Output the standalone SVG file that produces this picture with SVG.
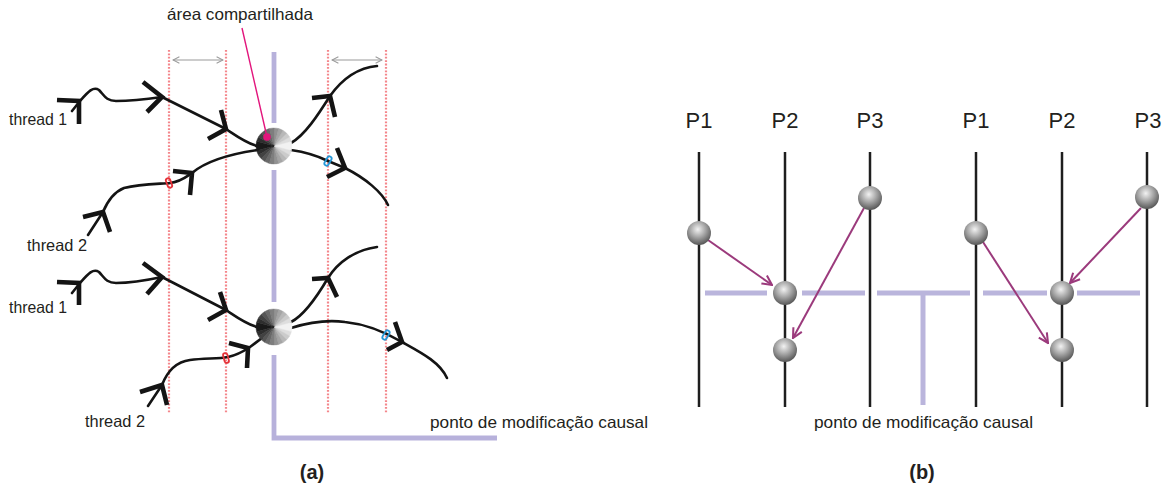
<svg xmlns="http://www.w3.org/2000/svg" xmlns:xlink="http://www.w3.org/1999/xlink" width="1166" height="488" viewBox="0 0 1166 488">
<style>
.txt{font-family:"Liberation Sans","DejaVu Sans",sans-serif;fill:#231f20}
.lbl{font-size:16.5px}
.plbl{font-size:22px}
.cap{font-size:20px;font-weight:bold}
.thread{fill:none;stroke:#141414;stroke-width:2.6;stroke-linecap:round;stroke-linejoin:round}
.chev{fill:none;stroke:#141414;stroke-width:4.6;stroke-linecap:butt;stroke-linejoin:miter;stroke-miterlimit:10}
.dot{stroke:#f4868b;stroke-width:2.2;stroke-dasharray:1.8 1.6;fill:none}
.lav{stroke:#b7b1db;stroke-width:4.8;fill:none;stroke-linecap:butt}
.lavb{stroke:#bab5dc;stroke-width:5;fill:none;stroke-linecap:butt}
.gray{stroke:#9a9a9a;stroke-width:1.1;fill:none}
.pline{stroke:#1e1e1e;stroke-width:2.5;fill:none}
.parr{stroke:#9b3a7c;stroke-width:2;fill:none;marker-end:url(#pa)}
.red{fill:none;stroke:#e5333a;stroke-width:1.8}
.blue{fill:none;stroke:#2596d6;stroke-width:1.8}
</style>
<defs>
<marker id="pa" viewBox="0 0 10 10" markerWidth="12" markerHeight="12" refX="9" refY="5" orient="auto" markerUnits="userSpaceOnUse">
<path d="M1,1 L9,5 L1,9" fill="none" stroke="#9b3a7c" stroke-width="1.7"/>
</marker>
<marker id="ga" viewBox="0 0 10 10" markerWidth="8" markerHeight="8" refX="9" refY="5" orient="auto-start-reverse" markerUnits="userSpaceOnUse">
<path d="M1,1 L9,5 L1,9" fill="none" stroke="#9a9a9a" stroke-width="1.3"/>
</marker>
<radialGradient id="ball" cx="0.45" cy="0.35" r="0.7">
<stop offset="0" stop-color="#f2f2f2"/>
<stop offset="0.45" stop-color="#a8a8a8"/>
<stop offset="1" stop-color="#4a4a4a"/>
</radialGradient>
<g id="cone">
<path d="M0,0 L18,0 A18,18 0 0,1 17.39,4.66Z" fill="#f2f2f2" stroke="#f2f2f2" stroke-width="0.4"/>
<path d="M0,0 L17.39,4.66 A18,18 0 0,1 15.59,9Z" fill="#dedede" stroke="#dedede" stroke-width="0.4"/>
<path d="M0,0 L15.59,9 A18,18 0 0,1 12.73,12.73Z" fill="#cbcbcb" stroke="#cbcbcb" stroke-width="0.4"/>
<path d="M0,0 L12.73,12.73 A18,18 0 0,1 9,15.59Z" fill="#b8b8b8" stroke="#b8b8b8" stroke-width="0.4"/>
<path d="M0,0 L9,15.59 A18,18 0 0,1 4.66,17.39Z" fill="#a5a5a5" stroke="#a5a5a5" stroke-width="0.4"/>
<path d="M0,0 L4.66,17.39 A18,18 0 0,1 0,18Z" fill="#929292" stroke="#929292" stroke-width="0.4"/>
<path d="M0,0 L0,18 A18,18 0 0,1 -4.66,17.39Z" fill="#7e7e7e" stroke="#7e7e7e" stroke-width="0.4"/>
<path d="M0,0 L-4.66,17.39 A18,18 0 0,1 -9,15.59Z" fill="#6a6a6a" stroke="#6a6a6a" stroke-width="0.4"/>
<path d="M0,0 L-9,15.59 A18,18 0 0,1 -12.73,12.73Z" fill="#565656" stroke="#565656" stroke-width="0.4"/>
<path d="M0,0 L-12.73,12.73 A18,18 0 0,1 -15.59,9Z" fill="#424242" stroke="#424242" stroke-width="0.4"/>
<path d="M0,0 L-15.59,9 A18,18 0 0,1 -17.39,4.66Z" fill="#2e2e2e" stroke="#2e2e2e" stroke-width="0.4"/>
<path d="M0,0 L-17.39,4.66 A18,18 0 0,1 -18,0Z" fill="#1a1a1a" stroke="#1a1a1a" stroke-width="0.4"/>
<path d="M0,0 L18,0 A18,18 0 0,0 17.39,-4.66Z" fill="#f2f2f2" stroke="#f2f2f2" stroke-width="0.4"/>
<path d="M0,0 L17.39,-4.66 A18,18 0 0,0 15.59,-9Z" fill="#dedede" stroke="#dedede" stroke-width="0.4"/>
<path d="M0,0 L15.59,-9 A18,18 0 0,0 12.73,-12.73Z" fill="#cbcbcb" stroke="#cbcbcb" stroke-width="0.4"/>
<path d="M0,0 L12.73,-12.73 A18,18 0 0,0 9,-15.59Z" fill="#b8b8b8" stroke="#b8b8b8" stroke-width="0.4"/>
<path d="M0,0 L9,-15.59 A18,18 0 0,0 4.66,-17.39Z" fill="#a5a5a5" stroke="#a5a5a5" stroke-width="0.4"/>
<path d="M0,0 L4.66,-17.39 A18,18 0 0,0 0,-18Z" fill="#929292" stroke="#929292" stroke-width="0.4"/>
<path d="M0,0 L0,-18 A18,18 0 0,0 -4.66,-17.39Z" fill="#7e7e7e" stroke="#7e7e7e" stroke-width="0.4"/>
<path d="M0,0 L-4.66,-17.39 A18,18 0 0,0 -9,-15.59Z" fill="#6a6a6a" stroke="#6a6a6a" stroke-width="0.4"/>
<path d="M0,0 L-9,-15.59 A18,18 0 0,0 -12.73,-12.73Z" fill="#565656" stroke="#565656" stroke-width="0.4"/>
<path d="M0,0 L-12.73,-12.73 A18,18 0 0,0 -15.59,-9Z" fill="#424242" stroke="#424242" stroke-width="0.4"/>
<path d="M0,0 L-15.59,-9 A18,18 0 0,0 -17.39,-4.66Z" fill="#2e2e2e" stroke="#2e2e2e" stroke-width="0.4"/>
<path d="M0,0 L-17.39,-4.66 A18,18 0 0,0 -18,0Z" fill="#1a1a1a" stroke="#1a1a1a" stroke-width="0.4"/>
</g>
</defs>
<rect width="1166" height="488" fill="#ffffff"/>

<!-- ============ (a) ============ -->
<g id="a-guides">
<line class="dot" x1="169" y1="50" x2="169" y2="413"/>
<line class="dot" x1="226" y1="50" x2="226" y2="413"/>
<line class="dot" x1="328" y1="50" x2="328" y2="413"/>
<line class="dot" x1="386" y1="50" x2="386" y2="413"/>
<line class="gray" x1="173" y1="60" x2="223" y2="60" marker-start="url(#ga)" marker-end="url(#ga)"/>
<line class="gray" x1="332" y1="60" x2="382" y2="60" marker-start="url(#ga)" marker-end="url(#ga)"/>
</g>
<g id="a-causal">
<line class="lav" x1="274" y1="52" x2="274" y2="123"/>
<line class="lav" x1="274" y1="170" x2="274" y2="302"/>
<path class="lav" d="M274,355 L274,438 L497,438"/>
</g>

<g id="a-connectors">
<path class="thread" d="M72,111 L80,101 C88,92 93,86 99,90 C104,95 106,101 116,101 C131,101 148,99 162,97 L226,129 C238,137 246,143 257,146"/>
<path class="thread" d="M88,235 L103,212 C108,200 114,192 124,188 C140,184 158,184 170,183 C180,182 186,177 192,173 C205,162 230,154 258,150"/>
<path class="thread" d="M291,143 C305,135 318,115 330,96 C340,82 355,68 377,66"/>
<path class="thread" d="M291,150 C305,152 318,156 328,161 L345,168 C365,178 382,192 388,205"/>
<path class="thread" d="M72,293 L80,283 C88,274 93,268 99,272 C104,277 106,283 116,283 C131,283 148,280 162,277 L226,310 C238,318 246,324 257,327"/>
<path class="thread" d="M148,406 L162,385 C167,372 175,362 190,360 C205,358 218,359 228,357 C238,355 244,351 250,347 L262,338"/>
<path class="thread" d="M291,322 C305,315 318,295 328,278 C338,262 355,250 377,247"/>
<path class="thread" d="M291,328 C310,322 330,320 345,322 C365,324 385,332 402,342 C420,352 440,362 447,378"/>
</g>

<g id="a-chevrons">
<polyline class="chev" points="57,100 79,101 79,124"/>
<polyline class="chev" points="143,82 162,97 147,112"/>
<polyline class="chev" points="221,110 226,129 208,139"/>
<polyline class="chev" points="83,217 103,212 110,232"/>
<polyline class="chev" points="173,171 192,173 190,195"/>
<polyline class="chev" points="312,98 330,96 335,117"/>
<polyline class="chev" points="337,148 345,168 327,177"/>
<polyline class="chev" points="57,282 79,283 79,305"/>
<polyline class="chev" points="143,263 162,277 147,294"/>
<polyline class="chev" points="220,292 226,310 208,320"/>
<polyline class="chev" points="140,392 162,385 167,405"/>
<polyline class="chev" points="229,343 248,348 247,368"/>
<polyline class="chev" points="312,279 328,278 337,297"/>
<polyline class="chev" points="395,322 402,342 387,350"/>
</g>

<g id="a-marks">
<rect class="red" x="-2.2" y="-5" width="4.4" height="10" rx="2.2" transform="translate(169,183) rotate(-20)"/>
<rect class="red" x="-2.2" y="-5" width="4.4" height="10" rx="2.2" transform="translate(226,358) rotate(-15)"/>
<rect class="blue" x="-2.2" y="-5" width="4.4" height="10" rx="2.2" transform="translate(328,161) rotate(30)"/>
<rect class="blue" x="-2.2" y="-5" width="4.4" height="10" rx="2.2" transform="translate(386,335) rotate(30)"/>
</g>

<g id="a-sphere1"><use xlink:href="#cone" href="#cone" transform="translate(274,146)"/></g>
<g id="a-sphere2"><use xlink:href="#cone" href="#cone" transform="translate(274,327)"/></g>

<g id="a-pointer">
<line x1="242" y1="28" x2="267" y2="137" stroke="#e2157c" stroke-width="1.4"/>
<circle cx="267" cy="137" r="3.8" fill="#e2157c"/>
</g>

<g id="a-labels">
<text class="txt lbl" x="167" y="20" textLength="146" lengthAdjust="spacingAndGlyphs">área compartilhada</text>
<text class="txt lbl" x="9" y="125" textLength="58" lengthAdjust="spacingAndGlyphs">thread 1</text>
<text class="txt lbl" x="27" y="251" textLength="60" lengthAdjust="spacingAndGlyphs">thread 2</text>
<text class="txt lbl" x="9" y="313" textLength="58" lengthAdjust="spacingAndGlyphs">thread 1</text>
<text class="txt lbl" x="85" y="427" textLength="60" lengthAdjust="spacingAndGlyphs">thread 2</text>
<text class="txt lbl" x="430" y="428" textLength="218" lengthAdjust="spacingAndGlyphs">ponto de modificação causal</text>
<text class="txt cap" x="312" y="479" text-anchor="middle">(a)</text>
</g>

<!-- ============ (b) ============ -->
<g id="b-causal">
<line class="lavb" x1="705" y1="293" x2="767" y2="293"/>
<line class="lavb" x1="802" y1="293" x2="865" y2="293"/>
<line class="lavb" x1="877" y1="293" x2="970" y2="293"/>
<line class="lavb" x1="983" y1="293" x2="1047" y2="293"/>
<line class="lavb" x1="1077" y1="293" x2="1140" y2="293"/>
<line class="lavb" x1="923" y1="293" x2="923" y2="405"/>
</g>

<g id="b-processes">
<line class="pline" x1="699" y1="152" x2="699" y2="407"/>
<line class="pline" x1="785" y1="152" x2="785" y2="407"/>
<line class="pline" x1="870" y1="152" x2="870" y2="407"/>
<line class="pline" x1="976" y1="152" x2="976" y2="407"/>
<line class="pline" x1="1062" y1="152" x2="1062" y2="407"/>
<line class="pline" x1="1147" y1="152" x2="1147" y2="407"/>
</g>

<g id="b-arrows">
<line class="parr" x1="708" y1="240" x2="772" y2="285"/>
<line class="parr" x1="864" y1="208" x2="793" y2="338"/>
<line class="parr" x1="1141" y1="208" x2="1070" y2="283"/>
<line class="parr" x1="983" y1="242" x2="1048" y2="343"/>
</g>

<g id="b-events">
<circle cx="699" cy="233" r="12" fill="url(#ball)"/>
<circle cx="785" cy="293" r="12" fill="url(#ball)"/>
<circle cx="785" cy="350" r="12" fill="url(#ball)"/>
<circle cx="870" cy="198" r="12" fill="url(#ball)"/>
<circle cx="976" cy="233" r="12" fill="url(#ball)"/>
<circle cx="1062" cy="293" r="12" fill="url(#ball)"/>
<circle cx="1062" cy="350" r="12" fill="url(#ball)"/>
<circle cx="1147" cy="197" r="12" fill="url(#ball)"/>
</g>

<g id="b-labels">
<text class="txt plbl" x="699" y="128" text-anchor="middle">P1</text>
<text class="txt plbl" x="785" y="128" text-anchor="middle">P2</text>
<text class="txt plbl" x="870" y="128" text-anchor="middle">P3</text>
<text class="txt plbl" x="976" y="128" text-anchor="middle">P1</text>
<text class="txt plbl" x="1062" y="128" text-anchor="middle">P2</text>
<text class="txt plbl" x="1148" y="128" text-anchor="middle">P3</text>
<text class="txt lbl" x="814" y="428" textLength="219" lengthAdjust="spacingAndGlyphs">ponto de modificação causal</text>
<text class="txt cap" x="922" y="479" text-anchor="middle">(b)</text>
</g>
</svg>
